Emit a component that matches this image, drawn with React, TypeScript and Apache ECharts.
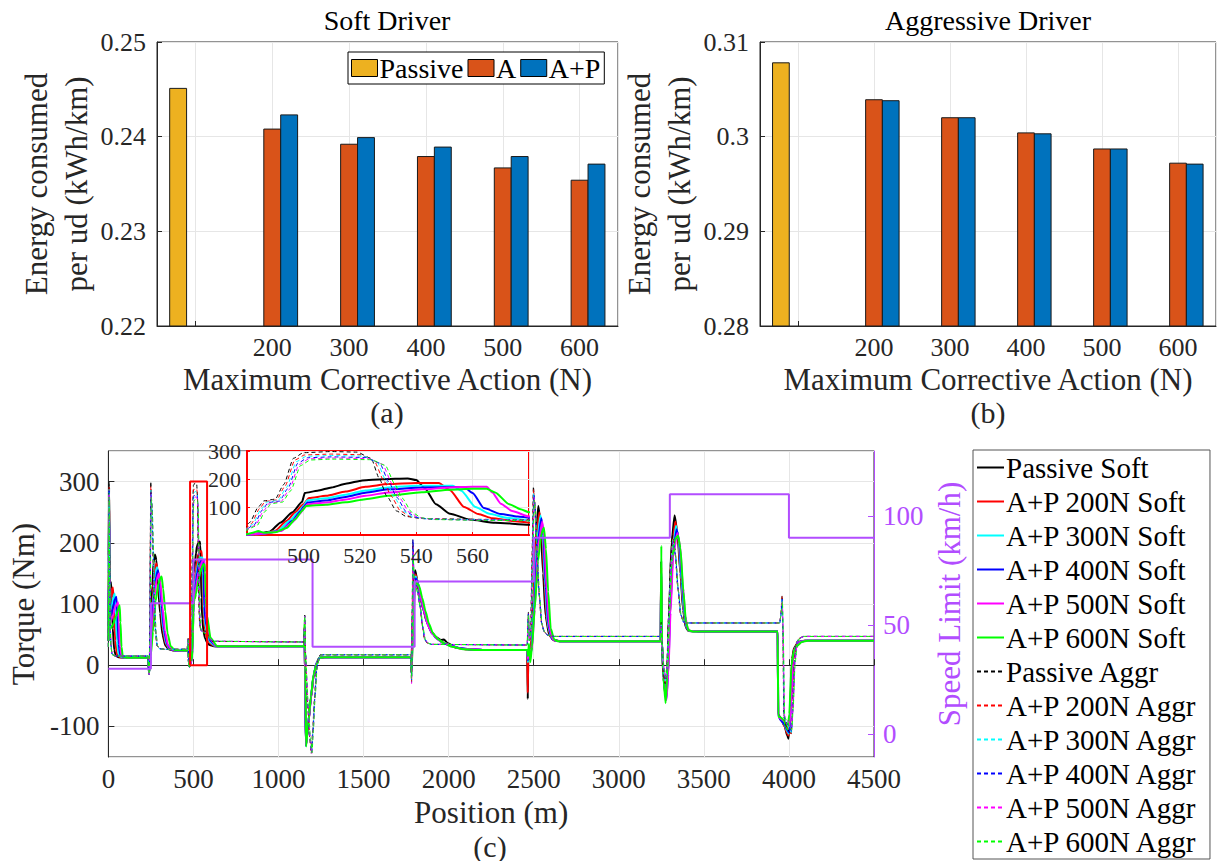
import React, { useEffect, useRef } from "react";
import * as echarts from "echarts";

// ---------- Bar data (energy consumed per unit distance, kWh/km) ----------
const correctiveActions = [200, 300, 400, 500, 600];
const softPassive = 0.2451;
const softA = [0.2408, 0.2392, 0.2379, 0.2367, 0.2354];
const softAP = [0.2423, 0.2399, 0.2389, 0.2379, 0.2371];
const aggrPassive = 0.3078;
const aggrA = [0.3039, 0.302, 0.3004, 0.2987, 0.2972];
const aggrAP = [0.3038, 0.302, 0.3003, 0.2987, 0.2971];
const passiveX = 77.5;
const pairOffset = 22;

// ---------- Speed limit (km/h) vs position (m) ----------
const speedX = [0, 250, 500, 1200, 1800, 2500, 3300, 4000, 4500];
const speedV = [30, 60, 80, 40, 70, 90, 110, 90, 90];

// ---------- Torque traces (Nm) vs position (m) ----------
const passiveSoft = [[0,40],[2,180],[4,290],[7,200],[10,120],[15,136],[20,110],[26,60],[34,25],[45,15],[60,13],[100,12],[234,12],[237,-8],[240,-12],[244,20],[250,70],[258,130],[266,168],[274,181],[282,172],[292,130],[304,85],[318,50],[335,32],[355,26],[380,24],[466,24],[469,38],[472,10],[476,-2],[480,2],[484,5],[488,12],[492,45],[496,80],[499.5,118],[500.5,150],[505,158],[510,170],[515,183],[521,195],[528,199],[537,202],[540,196],[543,168],[547,110],[552,76],[559,55],[568,44],[580,37],[595,33],[620,31],[1150,31],[1153,60],[1156,-20],[1161,-130],[1175,-95],[1190,-55],[1205,-20],[1222,2],[1240,12],[1270,13],[1778,13],[1781,-12],[1786,50],[1795,135],[1803,155],[1815,140],[1832,112],[1850,92],[1870,72],[1895,56],[1925,46],[1955,41],[1972,42],[1995,36],[2040,29],[2100,26],[2200,25],[2462,25],[2465,-55],[2468,20],[2476,10],[2486,40],[2500,120],[2515,220],[2527,260],[2540,232],[2555,150],[2570,80],[2590,50],[2612,42],[2660,39],[3246,39],[3249,170],[3253,40],[3262,-20],[3275,-52],[3285,-15],[3296,90],[3310,200],[3328,245],[3345,215],[3362,150],[3378,90],[3393,62],[3410,56],[3500,55],[3934,55],[3937,-80],[3955,-88],[3975,-100],[3990,-115],[3998,-120],[4006,-80],[4018,10],[4030,28],[4055,38],[4090,40],[4500,40]];
const ap200Soft = [[0,40],[2,170],[4,270],[7,180],[11,100],[20,125],[27,127],[33,90],[40,40],[50,18],[70,13],[100,12],[234,12],[237,-8],[240,-12],[244,15],[252,60],[262,120],[272,155],[282,166],[292,150],[304,105],[318,62],[335,36],[355,27],[385,24],[466,24],[469,38],[472,10],[476,-2],[480,2],[485,4],[490,15],[494,50],[497,80],[500,110],[502,132],[508,140],[515,155],[522,172],[530,182],[540,186],[548,186],[552,160],[557,100],[562,75],[567,60],[574,50],[580,45],[595,36],[625,31],[1150,31],[1153,62],[1156,-20],[1161,-131],[1175,-94],[1190,-54],[1205,-19],[1222,2],[1240,12],[1270,13],[1778,13],[1781,-10],[1786,45],[1796,128],[1805,148],[1818,136],[1835,110],[1853,90],[1873,70],[1898,55],[1928,45],[1960,38],[2000,34],[2050,28],[2110,26],[2200,25],[2462,25],[2465,-45],[2468,20],[2480,15],[2495,80],[2512,200],[2533,250],[2548,220],[2562,140],[2578,70],[2600,46],[2622,40],[2660,39],[3246,39],[3249,160],[3253,40],[3263,-22],[3277,-54],[3287,-15],[3298,85],[3313,190],[3332,235],[3348,210],[3365,145],[3381,88],[3396,62],[3413,56],[3500,55],[3934,55],[3937,-82],[3955,-90],[3975,-100],[3990,-112],[3999,-115],[4008,-75],[4020,10],[4033,28],[4058,38],[4090,40],[4500,40]];
const ap300Soft = [[0,40],[2,160],[4,262],[7,170],[12,90],[22,100],[30,112],[37,117],[43,85],[50,40],[60,18],[80,13],[100,12],[234,12],[237,-8],[240,-12],[245,15],[254,60],[265,118],[276,150],[286,160],[296,145],[308,100],[322,60],[340,35],[360,27],[390,24],[466,24],[469,37],[472,10],[476,-2],[480,2],[485,4],[491,15],[495,50],[498,80],[500,104],[501.5,124],[508,131],[515,144],[522,159],[530,170],[540,176],[553,176],[556,158],[561,100],[566,76],[572,62],[580,52],[597,38],[628,31],[1150,31],[1153,60],[1156,-20],[1161,-132],[1175,-93],[1190,-53],[1205,-18],[1222,3],[1240,12],[1270,13],[1778,13],[1781,-10],[1787,45],[1797,125],[1806,145],[1820,134],[1838,108],[1856,88],[1876,68],[1900,54],[1930,44],[1965,37],[2005,33],[2060,28],[2120,26],[2200,25],[2462,25],[2466,5],[2470,20],[2485,20],[2500,90],[2518,200],[2540,245],[2553,215],[2567,130],[2583,65],[2605,44],[2628,40],[2660,39],[3246,39],[3249,150],[3253,40],[3264,-24],[3278,-55],[3289,-15],[3300,85],[3316,185],[3336,228],[3352,205],[3368,140],[3384,85],[3399,61],[3415,56],[3500,55],[3934,55],[3937,-82],[3955,-90],[3975,-98],[3990,-108],[4000,-112],[4010,-70],[4022,10],[4036,28],[4060,38],[4095,40],[4500,40]];
const ap400Soft = [[0,40],[2,150],[4,252],[7,160],[12,80],[25,90],[38,108],[47,112],[53,80],[60,35],[70,16],[90,13],[234,12],[237,-8],[240,-12],[246,15],[256,60],[268,115],[280,145],[291,155],[301,140],[313,98],[327,58],[345,34],[366,26],[395,24],[466,24],[469,37],[472,10],[476,-2],[480,2],[486,5],[492,15],[496,50],[499,85],[500,100],[501.5,116],[508,123],[515,136],[522,151],[530,163],[542,170],[557,171],[560,150],[564,96],[570,75],[576,66],[580,62],[598,40],[632,31],[1150,31],[1153,58],[1156,-20],[1161,-132],[1176,-92],[1191,-52],[1206,-17],[1223,3],[1241,12],[1270,13],[1778,13],[1781,-10],[1788,45],[1798,122],[1807,142],[1822,132],[1840,106],[1858,86],[1878,66],[1902,52],[1933,43],[1968,36],[2010,32],[2070,28],[2130,26],[2200,25],[2462,25],[2466,8],[2471,22],[2487,22],[2503,90],[2522,198],[2545,240],[2557,212],[2571,128],[2587,64],[2608,43],[2630,40],[2660,39],[3246,39],[3249,145],[3253,40],[3265,-26],[3279,-56],[3290,-15],[3302,85],[3318,182],[3340,222],[3356,200],[3372,136],[3388,82],[3402,60],[3418,56],[3500,55],[3934,55],[3937,-83],[3955,-91],[3975,-97],[3990,-106],[4001,-110],[4012,-68],[4024,10],[4038,28],[4062,38],[4098,40],[4500,40]];
const ap500Soft = [[0,40],[2,140],[4,240],[7,150],[12,70],[25,80],[40,95],[50,100],[57,103],[62,70],[68,30],[78,15],[100,12],[234,12],[237,-8],[240,-12],[247,15],[258,60],[271,112],[284,140],[296,150],[306,135],[318,95],[332,56],[350,33],[372,26],[400,24],[466,24],[469,37],[472,10],[476,-2],[480,2],[486,5],[492,14],[496,45],[499,78],[500,95],[501.5,110],[508,116],[515,127],[522,140],[530,152],[542,163],[552,170],[560,172],[565,172],[567,152],[570,112],[574,86],[580,66],[600,42],[636,31],[1150,31],[1153,58],[1156,-20],[1162,-131],[1177,-91],[1192,-51],[1207,-16],[1224,3],[1242,12],[1270,13],[1778,13],[1781,-12],[1789,45],[1799,120],[1808,138],[1824,130],[1842,104],[1860,84],[1880,64],[1905,51],[1936,42],[1972,36],[2015,31],[2080,27],[2140,26],[2200,25],[2462,25],[2466,10],[2472,25],[2489,25],[2506,92],[2526,196],[2550,235],[2561,210],[2575,126],[2591,63],[2611,43],[2632,40],[2660,39],[3246,39],[3249,150],[3253,40],[3266,-28],[3280,-57],[3291,-15],[3304,85],[3320,180],[3344,216],[3360,196],[3376,132],[3391,80],[3405,60],[3420,56],[3500,55],[3934,55],[3937,-84],[3955,-88],[3975,-92],[3990,-98],[4002,-100],[4013,-66],[4026,10],[4040,28],[4065,38],[4100,40],[4500,40]];
const ap600Soft = [[0,40],[2,130],[4,230],[7,140],[12,60],[25,65],[45,80],[58,92],[66,98],[71,70],[77,30],[85,14],[110,12],[234,12],[237,-8],[240,-12],[249,15],[262,55],[278,105],[293,132],[305,142],[313,145],[322,125],[334,88],[348,52],[366,31],[390,25],[466,24],[469,37],[472,10],[476,-2],[480,3],[482,8],[484,14],[486,8],[490,10],[494,25],[497,55],[499.5,86],[501,104],[508,108],[515,117],[522,128],[530,140],[542,153],[552,162],[560,165],[565,165],[568,152],[573,110],[577,92],[580,81],[600,45],[640,31],[1150,31],[1154,75],[1157,0],[1162,-133],[1176,-90],[1191,-50],[1206,-15],[1222,0],[1240,12],[1270,13],[1778,13],[1781,-12],[1790,40],[1800,118],[1810,135],[1826,130],[1845,110],[1864,88],[1884,68],[1908,52],[1940,42],[1978,35],[2020,30],[2090,26],[2150,25],[2462,25],[2466,15],[2472,35],[2480,5],[2490,30],[2505,90],[2525,170],[2545,215],[2560,225],[2572,190],[2585,120],[2600,60],[2620,42],[2640,39],[3246,39],[3250,195],[3254,40],[3262,-20],[3275,-62],[3285,-20],[3295,80],[3310,170],[3330,205],[3348,212],[3362,192],[3380,120],[3395,70],[3410,57],[3440,55],[3500,55],[3934,55],[3937,-84],[3955,-86],[3970,-90],[3985,-100],[3992,-105],[4002,-80],[4015,0],[4030,24],[4050,32],[4075,38],[4110,40],[4500,40]];

const passiveAggr = [[0,30],[2,200],[4,300],[7,180],[10,80],[15,35],[22,18],[40,15],[234,15],[237,-10],[240,-16],[243,60],[246,200],[249,300],[254,270],[260,200],[268,110],[276,55],[285,32],[300,27],[330,26],[466,26],[469,44],[472,10],[475,5],[478,10],[481,45],[484,100],[486,122],[490,128],[493,180],[496.5,274],[500,294],[510,298],[519,296],[524,274],[527,200],[529.5,140],[533,86],[536.5,66],[542,59],[560,56],[580,55],[592,45],[610,39],[1150,38],[1154,82],[1158,20],[1170,-60],[1183,-118],[1192,-144],[1200,-112],[1210,-60],[1222,-10],[1233,10],[1245,17],[1778,17],[1782,-28],[1786,100],[1789,205],[1793,150],[1800,140],[1815,126],[1830,100],[1845,66],[1858,42],[1875,36],[1900,34],[2462,33],[2465,70],[2469,87],[2474,40],[2482,60],[2490,180],[2498,292],[2505,270],[2515,200],[2530,120],[2545,70],[2560,55],[2580,49],[2620,47],[3246,47],[3249,70],[3253,30],[3262,-15],[3272,-30],[3282,-5],[3292,80],[3304,170],[3316,212],[3330,190],[3346,130],[3362,85],[3378,72],[3400,69],[3946,69],[3952,80],[3960,114],[3964,60],[3970,-85],[3985,-100],[4000,-108],[4012,-114],[4020,-80],[4032,5],[4045,38],[4060,44],[4085,47],[4500,47]];
const ap200Aggr = [[0,30],[2,190],[4,292],[7,170],[10,75],[15,33],[22,18],[40,15],[234,15],[237,-10],[240,-15],[243,55],[246,190],[249.5,292],[255,262],[261,195],[269,108],[277,54],[286,32],[300,27],[330,26],[466,26],[469,43],[472,10],[475,5],[478,8],[481.5,40],[484.5,95],[486.5,120],[490.5,125],[493.5,175],[497,268],[500.5,286],[510,289],[520,287],[525,266],[528.5,195],[531,140],[534.5,85],[538,65],[543,58],[560,55],[580,54],[593,45],[612,39],[1150,38],[1154,80],[1158,20],[1171,-62],[1184,-120],[1193,-143],[1201,-110],[1211,-58],[1223,-8],[1234,10],[1246,17],[1778,17],[1782,-26],[1786,95],[1789.5,195],[1794,148],[1801,138],[1816,124],[1831,98],[1846,64],[1859,42],[1876,36],[1900,34],[2462,33],[2465,68],[2469,85],[2474,40],[2483,60],[2491,180],[2499,287],[2506,266],[2516,196],[2531,118],[2546,69],[2561,55],[2581,49],[2620,47],[3246,47],[3249,68],[3253,30],[3263,-12],[3273,-28],[3283,-3],[3293,80],[3305,168],[3317,208],[3331,186],[3347,128],[3363,84],[3379,71],[3400,69],[3946,69],[3952,80],[3960,112],[3964,60],[3971,-85],[3986,-98],[4001,-106],[4013,-112],[4021,-78],[4033,5],[4046,38],[4061,44],[4086,47],[4500,47]];
const ap300Aggr = [[0,30],[2,185],[4,288],[7,165],[10,72],[15,32],[22,18],[40,15],[234,15],[237,-10],[240,-15],[243.5,55],[247,190],[250,286],[256,258],[262,192],[270,106],[278,53],[287,32],[300,27],[330,26],[466,26],[469,42],[472,10],[475,5],[478,8],[482,38],[485,92],[487,118],[491,123],[494,170],[497.5,262],[501,281],[510,284],[521,282],[526,262],[529.5,190],[532,138],[535.5,84],[539,64],[544,57],[560,55],[580,53],[594,45],[613,39],[1150,38],[1154,80],[1158,20],[1172,-62],[1185,-120],[1194,-142],[1202,-108],[1212,-56],[1224,-7],[1235,10],[1247,17],[1778,17],[1782,-24],[1787,95],[1790,190],[1795,146],[1802,136],[1817,122],[1832,96],[1847,63],[1860,42],[1877,36],[1900,34],[2462,33],[2465,66],[2469,84],[2474,40],[2484,60],[2492,178],[2500,282],[2507,262],[2517,193],[2532,116],[2547,68],[2562,54],[2582,49],[2620,47],[3246,47],[3249,66],[3253,30],[3264,-10],[3274,-26],[3284,-2],[3294,80],[3306,165],[3318,205],[3332,183],[3348,126],[3364,83],[3380,71],[3400,69],[3946,69],[3952,80],[3960,110],[3965,60],[3972,-85],[3987,-96],[4002,-104],[4014,-110],[4022,-76],[4034,5],[4047,38],[4062,44],[4087,47],[4500,47]];
const ap400Aggr = [[0,30],[2,180],[4,285],[7,160],[10,70],[15,31],[22,17],[40,15],[234,15],[237,-10],[240,-15],[244,55],[247.5,185],[250.5,282],[257,255],[263,190],[271,104],[279,52],[288,31],[300,27],[330,26],[466,26],[469,42],[472,10],[475,5],[478,8],[482.5,36],[485.5,90],[487.5,116],[491.5,121],[494.5,166],[498,256],[501.5,276],[510,279],[522,277],[527,257],[530.5,186],[533,136],[536.5,83],[540,63],[545,56],[560,54],[580,52],[595,44],[614,39],[1150,38],[1154,80],[1158,20],[1173,-64],[1186,-121],[1195,-143],[1203,-108],[1213,-55],[1225,-6],[1236,10],[1248,17],[1778,17],[1782,-24],[1787.5,95],[1790.5,205],[1796,144],[1803,134],[1818,120],[1833,95],[1848,62],[1861,42],[1878,36],[1900,34],[2462,33],[2465,66],[2469,84],[2474,40],[2485,60],[2493,176],[2501,278],[2508,258],[2518,190],[2533,114],[2548,67],[2563,54],[2583,49],[2620,47],[3246,47],[3249,64],[3253,30],[3265,-8],[3275,-24],[3285,-1],[3295,80],[3307,162],[3319,202],[3333,180],[3349,124],[3365,82],[3381,70],[3400,69],[3946,69],[3952,80],[3961,108],[3965,60],[3973,-85],[3988,-95],[4003,-102],[4015,-108],[4023,-74],[4035,5],[4048,38],[4063,44],[4088,47],[4500,47]];
const ap500Aggr = [[0,30],[2,175],[4,280],[7,155],[10,68],[15,30],[22,17],[40,15],[234,15],[237,-12],[240,-17],[244.5,50],[248,180],[251,278],[258,252],[264,188],[272,102],[280,51],[289,31],[300,27],[330,26],[466,26],[469,41],[472,8],[475,4],[478,8],[483,35],[486,88],[488,114],[492,119],[495,162],[498.5,252],[502,272],[510,275],[523,273],[528,253],[531.5,183],[534,134],[537.5,82],[541,62],[546,56],[560,54],[580,52],[596,44],[615,39],[1150,38],[1154,80],[1158,20],[1174,-64],[1187,-121],[1196,-144],[1204,-107],[1214,-54],[1226,-5],[1237,10],[1249,17],[1778,17],[1782,-30],[1788,90],[1791,185],[1797,142],[1804,132],[1819,118],[1834,93],[1849,61],[1862,42],[1879,36],[1900,34],[2462,33],[2465,64],[2469,82],[2474,40],[2486,60],[2494,174],[2502,274],[2509,255],[2519,188],[2534,112],[2549,66],[2564,54],[2584,49],[2620,47],[3246,47],[3249,62],[3253,28],[3266,-6],[3276,-22],[3286,0],[3296,80],[3308,160],[3320,200],[3334,178],[3350,122],[3366,81],[3382,70],[3400,69],[3946,69],[3952,80],[3961,106],[3966,60],[3974,-82],[3989,-90],[4004,-95],[4016,-100],[4024,-72],[4036,5],[4049,38],[4064,44],[4089,47],[4500,47]];
const ap600Aggr = [[0,30],[2,170],[4,275],[7,150],[10,66],[15,30],[22,17],[40,15],[234,15],[237,-10],[240,-15],[245,50],[248.5,175],[251.5,274],[259,248],[265,185],[273,100],[281,50],[290,31],[300,27],[330,26],[466,26],[469,41],[472,10],[475,5],[478,10],[483.5,33],[486.5,85],[488.5,112],[492.5,117],[495.5,158],[499,248],[502.5,268],[510,271],[524,269],[529,249],[532.5,180],[535,132],[538.5,81],[542,61],[547,55],[560,53],[580,51],[597,43],[616,39],[1150,38],[1154,80],[1158,20],[1175,-65],[1188,-121],[1197,-143],[1205,-106],[1215,-53],[1227,-4],[1238,10],[1250,17],[1778,17],[1782,-22],[1788.5,90],[1791.5,180],[1798,140],[1805,130],[1820,116],[1835,92],[1850,60],[1863,42],[1880,36],[1900,34],[2462,33],[2465,64],[2469,82],[2474,40],[2487,60],[2495,172],[2503,270],[2510,252],[2520,185],[2535,110],[2550,65],[2565,54],[2585,49],[2620,47],[3246,47],[3249,60],[3253,28],[3267,-5],[3277,-20],[3287,1],[3297,80],[3309,158],[3321,198],[3335,176],[3351,120],[3367,80],[3383,70],[3400,69],[3946,69],[3952,80],[3962,104],[3966,60],[3975,-84],[3990,-94],[4005,-100],[4017,-106],[4025,-70],[4037,5],[4050,38],[4065,44],[4090,47],[4500,47]];

const zoomBoxX = [480, 580];
const zoomBoxY = [0, 300];

const traces = [
  { name: "Passive Soft", color: "#000000", data: passiveSoft, dashed: false },
  { name: "A+P 200N Soft", color: "#ff0000", data: ap200Soft, dashed: false },
  { name: "A+P 300N Soft", color: "#00ffff", data: ap300Soft, dashed: false },
  { name: "A+P 400N Soft", color: "#0000ff", data: ap400Soft, dashed: false },
  { name: "A+P 500N Soft", color: "#ff00ff", data: ap500Soft, dashed: false },
  { name: "A+P 600N Soft", color: "#00ff00", data: ap600Soft, dashed: false },
  { name: "Passive Aggr", color: "#000000", data: passiveAggr, dashed: true },
  { name: "A+P 200N Aggr", color: "#ff0000", data: ap200Aggr, dashed: true },
  { name: "A+P 300N Aggr", color: "#00ffff", data: ap300Aggr, dashed: true },
  { name: "A+P 400N Aggr", color: "#0000ff", data: ap400Aggr, dashed: true },
  { name: "A+P 500N Aggr", color: "#ff00ff", data: ap500Aggr, dashed: true },
  { name: "A+P 600N Aggr", color: "#00ff00", data: ap600Aggr, dashed: true },
];

const FONT = "Liberation Serif";
const TXT = "#262626";
const GRIDC = "#e6e6e6";
const PURPLE = "#b24dff";
const YELLOW = "#EDB120";
const ORANGE = "#D95319";
const BLUE = "#0072BD";
const HALF = 11;

function barSeries(name: string, color: string, pts: number[][], axisIdx: number, base: number) {
  return {
    type: "custom",
    name,
    xAxisIndex: axisIdx,
    yAxisIndex: axisIdx,
    itemStyle: { color, borderColor: "#1a1a1a", borderWidth: 1 },
    data: pts,
    renderItem: (params: any, api: any) => {
      const x = api.value(0);
      const v = api.value(1);
      const tl = api.coord([x - HALF, v]);
      const br = api.coord([x + HALF, base]);
      return {
        type: "rect",
        shape: { x: tl[0], y: tl[1], width: br[0] - tl[0], height: br[1] - tl[1] },
        style: { fill: color, stroke: "#1a1a1a", lineWidth: 1 },
      };
    },
  };
}

function barXAxis(gridIndex: number) {
  return {
    type: "value",
    gridIndex,
    min: 50,
    max: 650,
    splitNumber: 6,
    axisLine: { lineStyle: { color: TXT } },
    axisTick: { inside: true, length: 5, lineStyle: { color: TXT } },
    axisLabel: {
      fontFamily: FONT,
      fontSize: 26,
      color: TXT,
      margin: 8,
      showMinLabel: false,
      showMaxLabel: false,
      formatter: (v: number) => (v >= 200 && v <= 600 ? String(v) : ""),
    },
    splitLine: { show: true, lineStyle: { color: GRIDC } },
    name: "Maximum Corrective Action (N)",
    nameLocation: "middle",
    nameGap: 38,
    nameTextStyle: { fontFamily: FONT, fontSize: 31, color: TXT },
  };
}

function barYAxis(gridIndex: number, min: number, max: number) {
  return {
    type: "value",
    gridIndex,
    min,
    max,
    splitNumber: 3,
    axisLine: { show: true, lineStyle: { color: TXT } },
    axisTick: { inside: true, length: 5, lineStyle: { color: TXT } },
    axisLabel: {
      fontFamily: FONT,
      fontSize: 26,
      color: TXT,
      margin: 11,
      formatter: (v: number) => String(+v.toFixed(2)),
    },
    splitLine: { show: true, lineStyle: { color: GRIDC } },
    name: "Energy consumed\nper ud (kWh/km)",
    nameLocation: "middle",
    nameRotate: 90,
    nameGap: 53,
    nameTextStyle: { fontFamily: FONT, fontSize: 31, color: TXT, lineHeight: 40 },
  };
}

function txt(text: string, x: number, y: number, size: number, fill: string) {
  return {
    type: "text",
    x,
    y,
    style: { text, fontFamily: FONT, fontSize: size, fill, align: "center", verticalAlign: "middle" },
  };
}

export default function App() {
  const ref = useRef<HTMLDivElement>(null);
  useEffect(() => {
    const chart = echarts.init(ref.current as HTMLDivElement, null, { renderer: "svg" });

    const lineMain = traces.map((t) => ({
      type: "line",
      name: t.name,
      xAxisIndex: 2,
      yAxisIndex: 2,
      data: t.data,
      symbol: "none",
      smooth: 0.2,
      smoothMonotone: "x",
      lineStyle: { color: t.color, width: t.dashed ? 1 : 2, type: t.dashed ? [4, 3] : "solid" },
      itemStyle: { color: t.color },
      z: 2,
    }));
    const lineInset = traces.map((t) => ({
      type: "line",
      name: t.name,
      xAxisIndex: 3,
      yAxisIndex: 4,
      data: t.data,
      symbol: "none",
      smooth: 0.2,
      smoothMonotone: "x",
      clip: true,
      lineStyle: { color: t.color, width: t.dashed ? 1 : 2, type: t.dashed ? [4, 3] : "solid" },
      itemStyle: { color: t.color },
      z: 12,
    }));

    const option: any = {
      animation: false,
      grid: [
        { left: 157, top: 42, width: 461, height: 284, show: true, borderColor: TXT, borderWidth: 1 },
        { left: 760, top: 42, width: 456, height: 284, show: true, borderColor: TXT, borderWidth: 1 },
        { left: 106, top: 451, width: 768, height: 306, show: true, borderColor: TXT, borderWidth: 1 },
        { left: 247, top: 451, width: 282, height: 84, show: true, backgroundColor: "#ffffff", borderColor: "#ff0000", borderWidth: 2, z: 10 },
      ],
      xAxis: [
        barXAxis(0),
        barXAxis(1),
        {
          type: "value",
          gridIndex: 2,
          min: 0,
          max: 4500,
          interval: 500,
          axisLine: { lineStyle: { color: TXT } },
          axisTick: { inside: true, length: 6, lineStyle: { color: TXT } },
          axisLabel: { fontFamily: FONT, fontSize: 27, color: TXT, margin: 8, formatter: (v: number) => String(v) },
          splitLine: { show: true, lineStyle: { color: GRIDC } },
          name: "Position (m)",
          nameLocation: "middle",
          nameGap: 40,
          nameTextStyle: { fontFamily: FONT, fontSize: 31, color: TXT },
        },
        {
          type: "value",
          gridIndex: 3,
          min: zoomBoxX[0],
          max: zoomBoxX[1],
          interval: 20,
          z: 11,
          axisLine: { lineStyle: { color: "#ff0000", width: 2 } },
          axisTick: { inside: true, length: 3, lineStyle: { color: "#ff0000" } },
          axisLabel: { fontFamily: FONT, fontSize: 22, color: TXT, margin: 9, showMinLabel: false, showMaxLabel: false, formatter: (v: number) => String(v) },
          splitLine: { show: true, lineStyle: { color: GRIDC } },
        },
      ],
      yAxis: [
        barYAxis(0, 0.22, 0.25),
        barYAxis(1, 0.28, 0.31),
        {
          type: "value",
          gridIndex: 2,
          min: -150,
          max: 350,
          splitNumber: 5,
          axisLine: { show: true, lineStyle: { color: TXT } },
          axisTick: { inside: true, length: 6, lineStyle: { color: TXT } },
          axisLabel: { fontFamily: FONT, fontSize: 27, color: TXT, margin: 9, showMinLabel: false, showMaxLabel: false },
          splitLine: { show: true, lineStyle: { color: GRIDC } },
          name: "Torque (Nm)",
          nameLocation: "middle",
          nameRotate: 90,
          nameGap: 68,
          nameTextStyle: { fontFamily: FONT, fontSize: 31, color: TXT },
        },
        {
          type: "value",
          gridIndex: 2,
          position: "right",
          min: -10.5,
          max: 129.8,
          splitNumber: 3,
          axisLine: { show: true, lineStyle: { color: PURPLE } },
          axisTick: { inside: true, length: 6, lineStyle: { color: PURPLE } },
          axisLabel: { fontFamily: FONT, fontSize: 27, color: PURPLE, margin: 9, showMinLabel: false, showMaxLabel: false },
          splitLine: { show: false },
          name: "Speed Limit (km/h)",
          nameLocation: "middle",
          nameRotate: 90,
          nameGap: 56,
          nameTextStyle: { fontFamily: FONT, fontSize: 31, color: PURPLE },
        },
        {
          type: "value",
          gridIndex: 3,
          min: zoomBoxY[0],
          max: zoomBoxY[1],
          interval: 100,
          z: 11,
          axisLine: { show: true, lineStyle: { color: "#ff0000", width: 2 } },
          axisTick: { inside: true, length: 3, lineStyle: { color: "#ff0000" } },
          axisLabel: { fontFamily: FONT, fontSize: 22, color: TXT, margin: 6, showMinLabel: false },
          splitLine: { show: true, lineStyle: { color: GRIDC } },
        },
      ],
      legend: [
        {
          data: ["Passive", "A", "A+P"],
          left: 348,
          top: 52,
          orient: "horizontal",
          padding: [2, 4, 2, 3],
          itemWidth: 26,
          itemHeight: 17,
          itemGap: 4,
          icon: "rect",
          selectedMode: false,
          borderColor: "#000",
          borderWidth: 1,
          backgroundColor: "#fff",
          itemStyle: { borderColor: "#000", borderWidth: 1 },
          textStyle: { fontFamily: FONT, fontSize: 28, color: "#000", padding: [0, 0, 0, -3] },
        },
        {
          data: traces.map((t) => t.name),
          left: 973,
          top: 450,
          orient: "vertical",
          padding: [3, 12, 3, 3],
          itemWidth: 27,
          itemHeight: 14,
          itemGap: 5,
          selectedMode: false,
          borderColor: "#555",
          borderWidth: 1,
          itemStyle: { opacity: 0 },
          textStyle: { fontFamily: FONT, fontSize: 29, color: "#000", lineHeight: 27.3, padding: [0, 0, 0, -3] },
        },
      ],
      graphic: [
        txt("Soft Driver", 387, 20, 28, "#000"),
        txt("Aggressive Driver", 988, 20, 28, "#000"),
        txt("(a)", 387, 412, 30, TXT),
        txt("(b)", 988, 412, 30, TXT),
        txt("(c)", 490, 846, 30, TXT),
      ],
      series: [
        barSeries("Passive", YELLOW, [[passiveX, softPassive]], 0, 0.22),
        barSeries("A", ORANGE, correctiveActions.map((c, i) => [c, softA[i]]), 0, 0.22),
        barSeries("A+P", BLUE, correctiveActions.map((c, i) => [c + pairOffset, softAP[i]]), 0, 0.22),
        barSeries("Passive", YELLOW, [[passiveX, aggrPassive]], 1, 0.28),
        barSeries("A", ORANGE, correctiveActions.map((c, i) => [c, aggrA[i]]), 1, 0.28),
        barSeries("A+P", BLUE, correctiveActions.map((c, i) => [c + pairOffset, aggrAP[i]]), 1, 0.28),
        ...lineMain,
        {
          type: "line",
          name: "Speed Limit",
          xAxisIndex: 2,
          yAxisIndex: 3,
          data: speedX.map((x, i) => [x, speedV[i]]),
          step: "end",
          symbol: "none",
          lineStyle: { color: PURPLE, width: 2 },
          itemStyle: { color: PURPLE },
          z: 3,
        },
        {
          type: "line",
          name: "Zoom box",
          xAxisIndex: 2,
          yAxisIndex: 2,
          data: [
            [zoomBoxX[0], zoomBoxY[0]],
            [zoomBoxX[1], zoomBoxY[0]],
            [zoomBoxX[1], zoomBoxY[1]],
            [zoomBoxX[0], zoomBoxY[1]],
            [zoomBoxX[0], zoomBoxY[0]],
          ],
          symbol: "none",
          lineStyle: { color: "#ff0000", width: 2 },
          itemStyle: { color: "#ff0000" },
          z: 4,
        },
        ...lineInset,
      ],
    };
    chart.setOption(option);
    return () => chart.dispose();
  }, []);
  return <div ref={ref} style={{ position: "absolute", left: 0, top: 0, width: 1223, height: 861 }} />;
}
